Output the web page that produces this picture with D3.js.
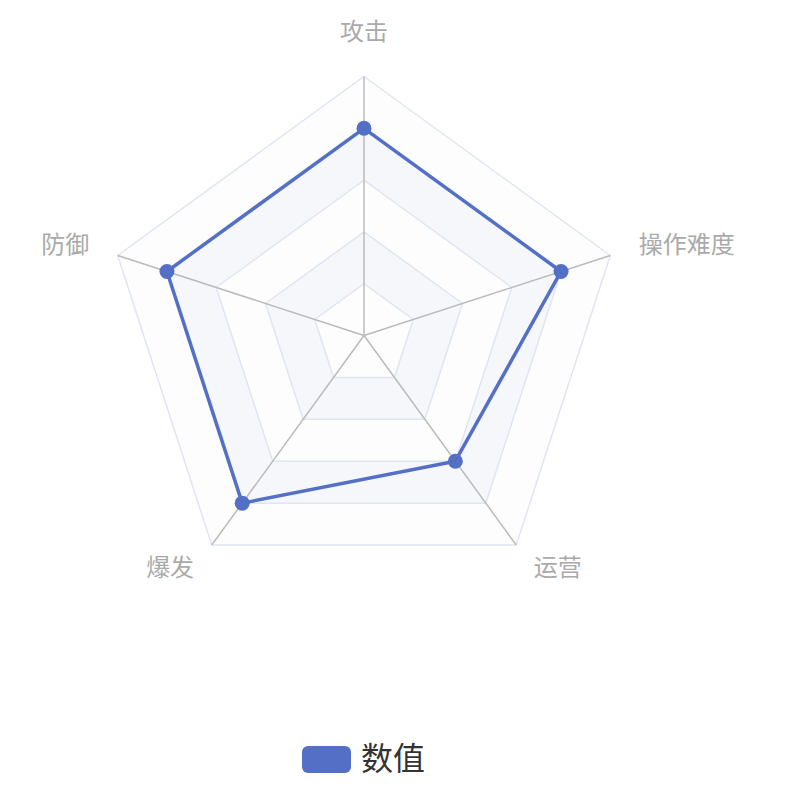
<!DOCTYPE html>
<html>
<head>
<meta charset="utf-8">
<script src="https://cdn.jsdelivr.net/npm/d3@7"></script>
<style>
html,body{margin:0;padding:0;background:#fff;}
svg{display:block;font-family:"Noto Sans CJK SC","Noto Sans",sans-serif;}
</style>
</head>
<body>
<svg id="chart" width="788" height="802"></svg>
<script>
const indicators = ["攻击", "操作难度", "运营", "爆发", "防御"];
const indicatorMax = [100, 100, 100, 100, 100];
const values = [80, 80, 60, 80, 80];
const seriesName = "数值";
const splitLevels = [0.2, 0.4, 0.6, 0.8, 1.0];

const W = 788, H = 802;
const cx = 364, cy = 335.5, R = 259;
const color = "#5470c6";
const svg = d3.select("#chart");

const n = indicators.length;
const angle = d3.scaleLinear().domain([0, n]).range([0, 2 * Math.PI]);
const rScale = d3.scaleLinear().domain([0, 1]).range([0, R]);
const pt = (i, frac) => {
  const a = angle(i), r = rScale(frac);
  return [cx + r * Math.sin(a), cy - r * Math.cos(a)];
};
const ringPts = f => d3.range(n).map(i => pt(i, f));

const areaColors = ["rgba(250,250,250,0.3)", "rgba(210,219,238,0.22)"];
const g = svg.append("g");
for (let k = splitLevels.length - 1; k >= 0; k--) {
  const outer = ringPts(splitLevels[k]);
  const inner = k > 0 ? ringPts(splitLevels[k - 1]) : null;
  let path = d3.line()(outer) + "Z";
  if (inner) path += d3.line()(inner.slice().reverse()) + "Z";
  g.append("path").attr("d", path).attr("fill", areaColors[k % 2]).attr("fill-rule", "evenodd").attr("stroke", "none");
}
splitLevels.forEach(f => {
  g.append("path").attr("d", d3.line()(ringPts(f)) + "Z")
    .attr("fill", "none").attr("stroke", "#e0e6f1").attr("stroke-width", 1.5);
});
d3.range(n).forEach(i => {
  const [x, y] = pt(i, 1);
  g.append("line").attr("x1", cx).attr("y1", cy).attr("x2", x).attr("y2", y)
    .attr("stroke", "#bbbbbb").attr("stroke-width", 1.5);
});
const gap = 30;
indicators.forEach((name, i) => {
  const a = angle(i);
  const r = R + gap;
  const x = cx + r * Math.sin(a), y = cy - r * Math.cos(a) - 2;
  const s = Math.sin(a), c = Math.cos(a);
  let anchor = Math.abs(s) < 1e-6 ? "middle" : (s > 0 ? "start" : "end");
  let dy = "0.35em";
  if (Math.abs(s) < 1e-6) dy = c > 0 ? "-0.2em" : "0.9em";
  g.append("text").attr("x", x).attr("y", y).attr("dy", dy)
    .attr("text-anchor", anchor).attr("font-size", 24).attr("fill", "#aaaaaa").text(name);
});

const dataPts = values.map((v, i) => pt(i, v / indicatorMax[i]));
svg.append("path").attr("d", d3.line()(dataPts) + "Z")
  .attr("fill", "none").attr("stroke", color).attr("stroke-width", 3.5).attr("stroke-linejoin", "round");
svg.selectAll("circle.pt").data(dataPts).enter().append("circle")
  .attr("class", "pt").attr("cx", d => d[0]).attr("cy", d => d[1]).attr("r", 7.5)
  .attr("fill", color);

const lg = svg.append("g");
lg.append("rect").attr("x", 302).attr("y", 746).attr("width", 49).attr("height", 27).attr("rx", 6)
  .attr("fill", color);
lg.append("text").attr("x", 361).attr("y", 759).attr("dy", "0.35em").attr("font-size", 32)
  .attr("fill", "#333333").text(seriesName);
</script>
</body>
</html>
